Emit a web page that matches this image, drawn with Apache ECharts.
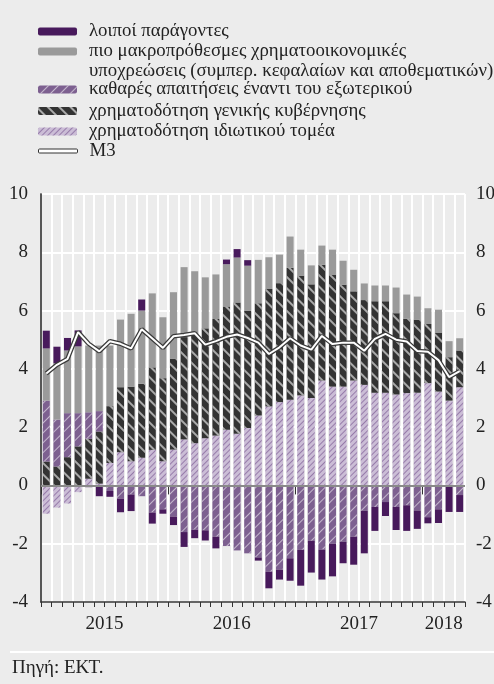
<!DOCTYPE html>
<html>
<head>
<meta charset="utf-8">
<script src="https://cdn.jsdelivr.net/npm/echarts@6/dist/echarts.min.js"></script>
<style>
  html, body { margin: 0; padding: 0; background: #ececec; }
  #chart { width: 494px; height: 684px; }
</style>
</head>
<body>
<div id="chart"></div>
<script>
// months Jan 2015 - Apr 2018
var months = [
  '2015-01', '2015-02', '2015-03', '2015-04', '2015-05', '2015-06', '2015-07', '2015-08', '2015-09', '2015-10', '2015-11', '2015-12',
  '2016-01', '2016-02', '2016-03', '2016-04', '2016-05', '2016-06', '2016-07', '2016-08', '2016-09', '2016-10', '2016-11', '2016-12',
  '2017-01', '2017-02', '2017-03', '2017-04', '2017-05', '2017-06', '2017-07', '2017-08', '2017-09', '2017-10', '2017-11', '2017-12',
  '2018-01', '2018-02', '2018-03', '2018-04'
];
var yearLabels = ['2015', '2016', '2017', '2018'];
var yearLabelPos = [6, 18, 30, 38];
var yearTickPos = [0, 12, 24, 36];

// χρηματοδότηση ιδιωτικού τομέα
var privateSector = [
  -0.97, -0.76, -0.62, -0.23, 0.23, 0.06, 0.77, 1.14, 0.83, 0.95, 1.22, 0.83,
  1.23, 1.58, 1.45, 1.62, 1.71, 1.91, 1.77, 1.97, 2.4, 2.71, 2.86, 2.94,
  3.09, 3.0, 3.6, 3.39, 3.39, 3.6, 3.45, 3.18, 3.18, 3.12, 3.17, 3.18,
  3.51, 3.22, 2.91, 3.37
];
// χρηματοδότηση γενικής κυβέρνησης
var government = [
  0.82, 0.65, 0.97, 1.34, 1.37, 1.79, 1.95, 2.23, 2.56, 2.54, 2.83, 2.85,
  3.11, 3.51, 3.73, 3.77, 4.0, 4.23, 4.51, 4.03, 3.85, 4.03, 4.08, 4.53,
  4.11, 3.9, 3.97, 3.83, 3.5, 3.06, 2.91, 3.14, 3.14, 2.79, 2.55, 2.51,
  2.03, 2.01, 1.49, 1.26
];
// καθαρές απαιτήσεις έναντι του εξωτερικού
var external = [
  2.09, 1.61, 1.51, 1.14, 0.91, 0.7, -0.19, -0.46, -0.31, -0.37, -0.93, -0.82,
  -1.07, -1.6, -1.52, -1.54, -1.76, -2.08, -2.23, -2.33, -2.47, -2.96, -2.89, -2.5,
  -2.21, -1.9, -2.2, -2.0, -1.93, -1.76, -0.87, -0.74, -0.57, -0.74, -0.68, -0.86,
  -1.09, -0.82, 0, -0.33
];
// πιο μακροπρόθεσμες χρηματοοικονομικές υποχρεώσεις
var longTerm = [
  1.79, 1.93, 2.15, 2.29, 2.29, 2.25, 2.08, 2.32, 2.5, 2.51, 2.54, 2.09,
  2.29, 2.4, 2.17, 1.75, 1.53, 1.45, 1.54, 1.54, 1.49, 1.09, 0.98, 1.07,
  0.89, 0.65, 0.66, 0.87, 0.82, 0.74, 0.57, 0.54, 0.54, 0.88, 0.83, 0.79,
  0.54, 0.8, 0.55, 0.42
];
// λοιποί παράγοντες
var other = [
  0.61, 0.57, 0.43, 0.55, -0.06, -0.37, -0.2, -0.46, -0.57, 0.38, -0.38, -0.15,
  -0.29, -0.51, -0.29, -0.35, -0.4, 0.16, 0.29, 0.19, -0.11, -0.57, -0.34, -0.77,
  -1.23, -1.09, -1.03, -1.12, -0.74, -0.96, -1.46, -0.82, -0.48, -0.79, -0.88, -0.63,
  -0.21, -0.47, -0.91, -0.58
];
// M3
var m3 = [
  3.84, 4.14, 4.34, 5.26, 4.86, 4.6, 4.95, 4.86, 4.7, 5.36, 5.04, 4.72,
  5.12, 5.16, 5.22, 4.83, 4.95, 5.1, 5.18, 5.06, 4.9, 4.51, 4.74, 5.05,
  4.8, 4.66, 5.13, 4.85, 4.9, 4.9, 4.62, 5.03, 5.2, 5.0, 4.94, 4.61,
  4.59, 4.3, 3.72, 3.92
];

var names = {
  other: 'λοιποί παράγοντες',
  longTerm: 'πιο μακροπρόθεσμες χρηματοοικονομικές',
  external: 'καθαρές απαιτήσεις έναντι του εξωτερικού',
  government: 'χρηματοδότηση γενικής κυβέρνησης',
  privateSector: 'χρηματοδότηση ιδιωτικού τομέα',
  m3: 'M3'
};

var font = 'Liberation Serif';
var txt = { fontFamily: font, fontSize: 18.8, color: '#222', padding: [0, 0, 0, 7] };

// one legend per row, so every row can be placed on its own
function legendAt(name, top, extra) {
  var l = {
    data: [name], left: 38, top: top, padding: 0,
    itemWidth: 39, itemHeight: 8, selectedMode: false,
    textStyle: txt
  };
  for (var k in extra) l[k] = extra[k];
  return l;
}

var chart = echarts.init(document.getElementById('chart'));
var option = {
  backgroundColor: '#ececec',
  animation: false,
  legend: [
    legendAt(names.other, 22),
    legendAt(names.longTerm, 42),
    legendAt(names.external, 80),
    legendAt(names.government, 101.5),
    legendAt(names.privateSector, 122),
    legendAt(names.m3, 141.5, {
      icon: 'roundRect', itemHeight: 4,
      itemStyle: { color: '#fff', borderColor: '#333', borderWidth: 1 }
    })
  ],
  grid: { left: 41, right: 29, top: 194, bottom: 82, containLabel: false, outerBoundsMode: 'none' },
  xAxis: [
    {
      type: 'category',
      data: months,
      position: 'bottom',
      axisLine: { onZero: false, lineStyle: { color: '#333', width: 1.5 } },
      axisTick: { show: true, interval: 0, length: 5, lineStyle: { color: '#333', width: 1 } },
      axisLabel: { show: false },
      splitLine: { show: false }
    },
    {
      // year ticks and labels
      type: 'value',
      min: 0, max: 40,
      position: 'bottom',
      axisLine: { show: false },
      axisTick: { show: true, customValues: yearTickPos, length: 9, lineStyle: { color: '#333', width: 1 } },
      axisLabel: {
        customValues: yearLabelPos, margin: 13,
        fontFamily: font, fontSize: 19, color: '#222',
        formatter: function (v) { return yearLabels[yearLabelPos.indexOf(v)] || ''; }
      },
      splitLine: { show: false }
    },
    {
      // white month separators
      type: 'value',
      min: 0, max: 40, interval: 1,
      position: 'top',
      axisLine: { show: false },
      axisTick: { show: false },
      axisLabel: { show: false },
      splitLine: { show: true, lineStyle: { color: '#fff', width: 2 } }
    }
  ],
  yAxis: [
    {
      type: 'value', min: -4, max: 10, interval: 2, position: 'left',
      axisLine: { show: true, lineStyle: { color: '#666', width: 1.5 } },
      axisTick: { show: false },
      axisLabel: { margin: 13, fontFamily: font, fontSize: 19, color: '#222' },
      splitLine: { show: true, lineStyle: { color: '#fff', width: 2 } }
    },
    {
      type: 'value', min: -4, max: 10, interval: 2, position: 'right',
      axisLine: { show: true, lineStyle: { color: '#444', width: 1.5 } },
      axisTick: { show: false },
      axisLabel: { margin: 11, fontFamily: font, fontSize: 19, color: '#222' },
      splitLine: { show: false }
    }
  ],
  series: [
    {
      name: names.privateSector, type: 'bar', stack: 'm3', barWidth: 7,
      data: privateSector,
      itemStyle: {
        color: '#cbbdd6',
        decal: {
          symbol: 'rect', symbolSize: 1, symbolKeepAspect: false,
          color: 'rgba(115,80,140,0.6)',
          dashArrayX: [1, 0], dashArrayY: [1, 3],
          rotation: -Math.PI / 4
        }
      },
      markLine: {
        silent: true, symbol: 'none', label: { show: false },
        lineStyle: { color: '#8a8a8a', width: 2, type: 'solid' },
        data: [{ yAxis: 0 }]
      }
    },
    {
      name: names.government, type: 'bar', stack: 'm3', barWidth: 7,
      data: government,
      itemStyle: {
        color: '#333333',
        decal: {
          symbol: 'rect', symbolSize: 1, symbolKeepAspect: false,
          color: 'rgba(200,200,200,0.8)',
          dashArrayX: [1, 0], dashArrayY: [1.5, 6],
          rotation: Math.PI / 4
        }
      }
    },
    {
      name: names.external, type: 'bar', stack: 'm3', barWidth: 7,
      data: external,
      itemStyle: {
        color: '#7d6090',
        decal: {
          symbol: 'rect', symbolSize: 1, symbolKeepAspect: false,
          color: 'rgba(255,255,255,0.55)',
          dashArrayX: [1, 0], dashArrayY: [1, 6],
          rotation: -Math.PI / 4
        }
      }
    },
    {
      name: names.longTerm, type: 'bar', stack: 'm3', barWidth: 7,
      data: longTerm,
      itemStyle: { color: '#9a9a9a' }
    },
    {
      name: names.other, type: 'bar', stack: 'm3', barWidth: 7,
      data: other,
      itemStyle: { color: '#481a5c' }
    },
    {
      name: 'M3 outline', type: 'line', data: m3, symbol: 'none', z: 5,
      lineStyle: { color: '#3a3a3a', width: 4.5 }
    },
    {
      name: names.m3, type: 'line', data: m3, symbol: 'none', z: 6,
      itemStyle: { color: '#fff' },
      lineStyle: { color: '#fff', width: 2 }
    }
  ],
  graphic: [
    {
      type: 'text', left: 89, top: 62,
      style: { text: 'υποχρεώσεις (συμπερ. κεφαλαίων και αποθεματικών)', font: '18.8px "Liberation Serif"', fill: '#222' }
    },
    {
      type: 'line', shape: { x1: 10, y1: 652, x2: 494, y2: 652 },
      style: { stroke: '#fff', lineWidth: 2 }
    },
    {
      type: 'text', left: 12, top: 659,
      style: { text: 'Πηγή: ΕΚΤ.', font: '19px "Liberation Serif"', fill: '#222' }
    }
  ]
};
chart.setOption(option);
</script>
</body>
</html>
